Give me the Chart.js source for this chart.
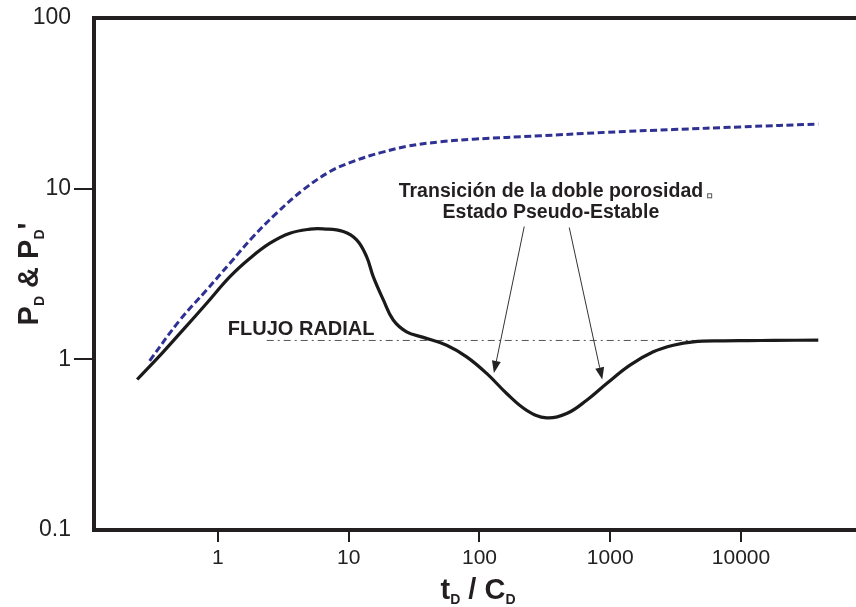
<!DOCTYPE html>
<html><head><meta charset="utf-8">
<script src="https://cdn.jsdelivr.net/npm/chart.js@4/dist/chart.umd.min.js"></script>
<style>html,body{margin:0;padding:0;background:#fff}canvas{display:block}</style>
</head><body>
<canvas id="c" width="856" height="607"></canvas>
<script>
// ---- data ----
const pdTime   = [0.30, 0.512, 0.820, 1.235, 1.862, 2.81, 4.49, 7.19, 10.2, 14.5, 17.3, 27.7, 49.9, 89.7, 290, 940, 3035, 9820, 39020];
const pdValues = [0.98, 1.70, 2.55, 3.66, 5.24, 7.19, 9.85, 12.6, 14.2, 15.6, 16.2, 17.7, 18.8, 19.5, 20.4, 21.4, 22.2, 23.0, 23.9];

const derivTime   = [0.241, 0.382, 0.560, 0.820, 1.235, 1.757, 2.50, 3.55, 5.06, 6.38, 9.08, 11.5, 13.7, 15.4, 18.4, 21.9, 27.7, 37.2, 56.1, 79.8, 113.5, 161.4, 229.6, 326.5, 464.6, 660.7, 939.6, 1416, 2135, 3035, 4317, 7324, 11400, 17660, 39020];
const derivValues = [0.762, 1.107, 1.535, 2.13, 3.05, 3.91, 4.79, 5.48, 5.79, 5.81, 5.61, 5.01, 4.00, 3.05, 2.23, 1.70, 1.45, 1.345, 1.21, 1.034, 0.827, 0.631, 0.503, 0.454, 0.481, 0.576, 0.722, 0.925, 1.107, 1.21, 1.267, 1.284, 1.288, 1.291, 1.296];

const radialFlowTime  = [2.36, 8000];
const radialFlowLevel = [1.29, 1.29];

const xTickValues = [1, 10, 100, 1000, 10000];
const xTickLabels = ['1', '10', '100', '1000', '10000'];
const yTickValues = [0.1, 1, 10, 100];
const yTickLabels = ['0.1', '1', '10', '100'];

const arrowStarts = [[220, 6.0], [486, 5.92]];
const arrowEnds   = [[129, 0.833], [869, 0.762]];

const radialLabel = 'FLUJO RADIAL';
const radialLabelPos = [1.19, 1.387];
const transitionLines = ['Transición de la doble porosidad', 'Estado Pseudo-Estable'];
const transitionPos = [[352, 8.9], [352, 6.7]];

// ---- chart ----
const INK = '#231f20';
const FONT = "'Liberation Sans', Arial, Helvetica, sans-serif";
const toPts = (xs, ys) => xs.map((v, i) => ({x: v, y: ys[i]}));

function drawRich(ctx, parts, cx, baseY) {
  let total = 0;
  parts.forEach(p => { ctx.font = 'bold ' + p.s + 'px ' + FONT; p.w = ctx.measureText(p.t).width; total += p.w; });
  let xx = cx - total / 2;
  ctx.textAlign = 'left'; ctx.textBaseline = 'alphabetic';
  parts.forEach(p => {
    ctx.font = 'bold ' + p.s + 'px ' + FONT;
    ctx.fillText(p.t, xx, baseY + (p.dy || 0));
    xx += p.w;
  });
}

const decor = {
  id: 'decor',
  afterDraw(chart) {
    const {ctx, chartArea: a, scales: {x, y}} = chart;
    ctx.save();
    // top frame line
    ctx.strokeStyle = INK; ctx.lineWidth = 4;
    ctx.beginPath(); ctx.moveTo(a.left - 2, a.top); ctx.lineTo(a.right, a.top); ctx.stroke();

    // arrows
    ctx.strokeStyle = '#333'; ctx.fillStyle = '#222'; ctx.lineWidth = 1;
    arrowStarts.forEach((s, i) => {
      const x0 = x.getPixelForValue(s[0]), y0 = y.getPixelForValue(s[1]);
      const x1 = x.getPixelForValue(arrowEnds[i][0]), y1 = y.getPixelForValue(arrowEnds[i][1]);
      const ang = Math.atan2(y1 - y0, x1 - x0);
      const L = 12, W = 4.5;
      const bx = x1 - L * Math.cos(ang), by = y1 - L * Math.sin(ang);
      ctx.beginPath(); ctx.moveTo(x0, y0); ctx.lineTo(bx, by); ctx.stroke();
      ctx.beginPath();
      ctx.moveTo(x1, y1);
      ctx.lineTo(bx + W * Math.sin(ang), by - W * Math.cos(ang));
      ctx.lineTo(bx - W * Math.sin(ang), by + W * Math.cos(ang));
      ctx.closePath(); ctx.fill();
    });

    // annotations
    ctx.fillStyle = INK;
    ctx.font = 'bold 20px ' + FONT;
    ctx.textAlign = 'left'; ctx.textBaseline = 'alphabetic';
    ctx.fillText(radialLabel, x.getPixelForValue(radialLabelPos[0]), y.getPixelForValue(radialLabelPos[1]));
    ctx.textAlign = 'center';
    ctx.font = 'bold 19.5px ' + FONT;
    transitionLines.forEach((t, i) => {
      ctx.fillText(t, x.getPixelForValue(transitionPos[i][0]), y.getPixelForValue(transitionPos[i][1]));
    });
    // small square marker after first line
    const w0 = ctx.measureText(transitionLines[0]).width;
    const ex = x.getPixelForValue(transitionPos[0][0]) + w0 / 2 + 4;
    const ey = y.getPixelForValue(transitionPos[0][1]);
    ctx.strokeStyle = '#555'; ctx.lineWidth = 1;
    ctx.strokeRect(ex + 0.5, ey - 3.5, 4, 4);

    // axis titles
    ctx.fillStyle = INK;
    drawRich(ctx, [{t: 't', s: 29}, {t: 'D', s: 14, dy: 5}, {t: ' / ', s: 29}, {t: 'C', s: 29}, {t: 'D', s: 14, dy: 5}],
      (a.left + a.right) / 2 + 3, 599);
    ctx.save();
    ctx.translate(38, (a.top + a.bottom) / 2);
    ctx.rotate(-Math.PI / 2);
    drawRich(ctx, [{t: 'P', s: 29}, {t: 'D', s: 14, dy: 6}, {t: ' & ', s: 29}, {t: 'P', s: 29}, {t: 'D', s: 14, dy: 6}, {t: "'", s: 29}], 0, 0);
    ctx.restore();
    ctx.restore();
  }
};

new Chart(document.getElementById('c'), {
  type: 'scatter',
  data: {
    datasets: [
      {label: "PD'", data: toPts(derivTime, derivValues), showLine: true, borderColor: '#1a1a1a', borderWidth: 3.2,
       pointRadius: 0, tension: 0.4, fill: false},
      {label: 'PD', data: toPts(pdTime, pdValues), showLine: true, borderColor: '#2e3192', borderWidth: 3,
       borderDash: [7, 3.5], pointRadius: 0, tension: 0.4, fill: false},
      {label: 'radial', data: toPts(radialFlowTime, radialFlowLevel), showLine: true, borderColor: '#555', borderWidth: 1,
       borderDash: [7, 4, 2, 4], pointRadius: 0, fill: false}
    ]
  },
  options: {
    responsive: false, animation: false, devicePixelRatio: 1,
    layout: {padding: {top: 18, right: 0, left: 0, bottom: 0}},
    plugins: {legend: {display: false}, tooltip: {enabled: false}},
    scales: {
      x: {
        type: 'logarithmic', min: 0.1127, max: 75800,
        afterBuildTicks: s => { s.ticks = xTickValues.map(v => ({value: v})); },
        afterFit: s => { s.height = 77; },
        ticks: {autoSkip: false, maxRotation: 0, padding: 4, color: '#222',
                font: {family: FONT, size: 21},
                callback: (v) => { const i = xTickValues.indexOf(v); return i >= 0 ? xTickLabels[i] : ''; }},
        grid: {display: true, drawOnChartArea: false, drawTicks: true, tickLength: 12, lineWidth: 2, color: INK},
        border: {display: true, width: 4, color: INK}
      },
      y: {
        type: 'logarithmic', min: 0.1, max: 100,
        afterBuildTicks: s => { s.ticks = yTickValues.map(v => ({value: v})); },
        afterFit: s => { s.width = 94; },
        ticks: {autoSkip: false, padding: 3, color: '#222',
                font: {family: FONT, size: 23},
                callback: (v) => { const i = yTickValues.indexOf(v); return i >= 0 ? yTickLabels[i] : ''; }},
        grid: {display: true, drawOnChartArea: false, drawTicks: true, tickLength: 20, lineWidth: 2,
               color: c => (c.tick && (c.tick.value === 1 || c.tick.value === 10)) ? INK : 'rgba(0,0,0,0)'},
        border: {display: true, width: 4, color: INK}
      }
    }
  },
  plugins: [decor]
});
</script>
</body></html>
